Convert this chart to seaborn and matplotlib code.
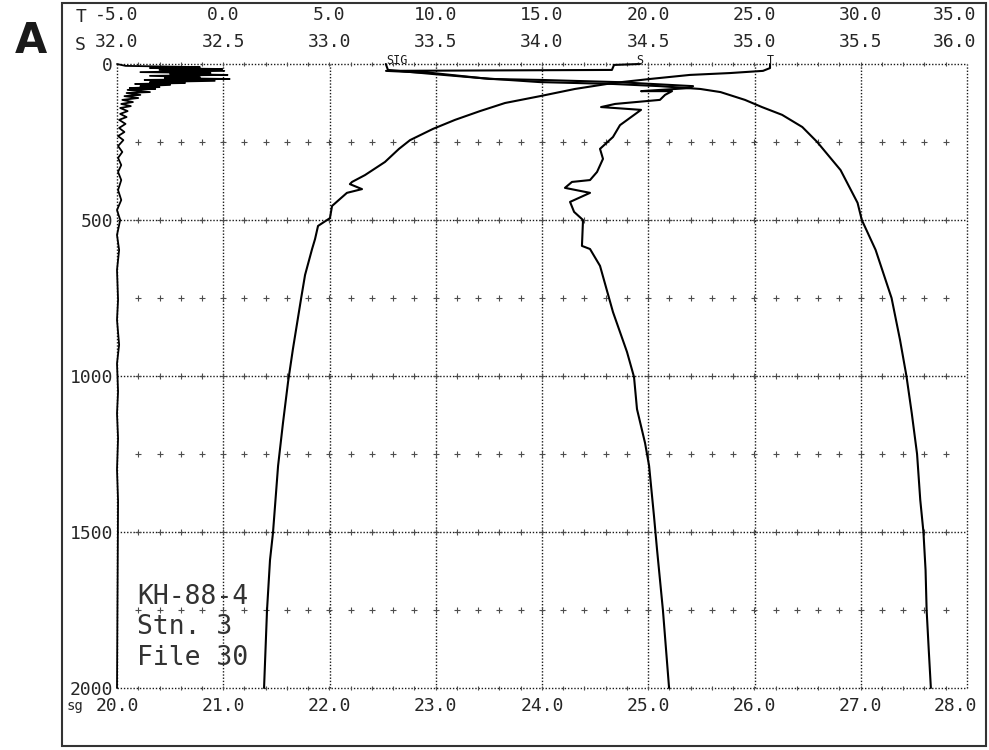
import numpy as np
import pandas as pd
import matplotlib
matplotlib.use("Agg")
import matplotlib.pyplot as plt
from matplotlib.patches import Rectangle
from matplotlib.transforms import ScaledTranslation
import seaborn as sns

# ---------------- data ----------------
# Temperature (deg C) vs depth (m)
t_depth = [0, 13, 22, 29, 35, 48, 61, 80, 103, 125, 151, 179, 208, 244, 272, 314, 356, 378, 385, 401,
           413, 455, 494, 519, 561, 593, 676, 753, 913, 1019, 1151, 1288, 1503, 1590, 1750, 2000]
t_vals = [25.73, 25.73, 25.40, 23.85, 21.96, 20.08, 18.34, 16.55, 14.91, 13.26, 12.08, 10.91, 9.87, 8.79,
          8.27, 7.61, 6.67, 6.06, 5.96, 6.53, 5.82, 5.12, 5.02, 4.46, 4.32, 4.18, 3.85, 3.66, 3.28, 3.05,
          2.81, 2.58, 2.34, 2.20, 2.06, 1.92]

# Salinity vs depth
s_depth = [0, 3, 19, 22, 29, 38, 48, 51, 58, 71, 77, 87, 87, 99, 115, 128, 138, 147, 196, 234, 272, 304,
           346, 372, 378, 397, 413, 442, 474, 500, 583, 593, 647, 795, 923, 1003, 1106, 1215, 1288, 1449,
           1554, 1750, 2000]
s_vals = [34.461, 34.339, 34.329, 33.266, 33.487, 33.614, 33.755, 33.991, 34.353, 34.711, 34.696, 34.466,
          34.612, 34.579, 34.555, 34.344, 34.278, 34.466, 34.367, 34.334, 34.273, 34.287, 34.259, 34.226,
          34.141, 34.108, 34.226, 34.132, 34.151, 34.193, 34.188, 34.226, 34.273, 34.334, 34.400, 34.433,
          34.447, 34.485, 34.504, 34.527, 34.541, 34.569, 34.598]

# Sigma-t vs depth
sg_depth = [0, 19, 32, 45, 58, 64, 71, 80, 90, 115, 138, 163, 202, 250, 340, 445, 500, 596, 750, 885,
            1000, 1119, 1250, 1397, 1500, 1622, 1750, 1878, 2000]
sg_vals = [22.53, 22.55, 22.97, 23.42, 23.98, 24.67, 25.11, 25.49, 25.68, 25.91, 26.07, 26.26, 26.45,
           26.59, 26.81, 26.97, 27.01, 27.14, 27.29, 27.37, 27.43, 27.48, 27.53, 27.56, 27.59, 27.61,
           27.62, 27.64, 27.66]

# Auxiliary noisy trace near the left edge (in sigma-axis units)
aux_depth = [0, 6, 10, 13, 16, 19, 22, 26, 29, 32, 35, 38, 42, 45, 48, 51, 54, 58, 61, 64, 67, 71, 74, 77,
             80, 83, 90, 93, 99, 103, 109, 115, 122, 128, 135, 141, 151, 160, 170, 179, 192, 205, 218, 231,
             244, 263, 282, 301, 324, 346, 372, 404, 436, 468, 500, 548, 596, 660, 756, 820, 900, 960,
             1050, 1120, 1200, 1300, 1400, 2000]
aux_vals = [20.00, 20.08, 20.78, 20.31, 20.99, 20.40, 21.01, 20.22, 20.88, 20.50, 21.04, 20.31, 20.78,
            20.45, 21.06, 20.26, 20.92, 20.31, 20.64, 20.17, 20.50, 20.22, 20.40, 20.12, 20.36, 20.10,
            20.31, 20.09, 20.22, 20.07, 20.20, 20.05, 20.15, 20.04, 20.13, 20.03, 20.10, 20.03, 20.09,
            20.02, 20.08, 20.02, 20.07, 20.01, 20.06, 20.01, 20.05, 20.01, 20.04, 20.01, 20.04, 20.01,
            20.04, 20.00, 20.03, 20.00, 20.02, 20.00, 20.01, 20.00, 20.02, 20.00, 20.01, 20.00, 20.01,
            20.00, 20.01, 20.00]

t_ticks = [-5, 0, 5, 10, 15, 20, 25, 30, 35]
s_ticks = [32.0, 32.5, 33.0, 33.5, 34.0, 34.5, 35.0, 35.5, 36.0]
sg_ticks = [20, 21, 22, 23, 24, 25, 26, 27, 28]
depth_ticks = [0, 500, 1000, 1500, 2000]
info_lines = ["KH-88-4", "Stn. 3", "File 30"]

# ---------------- styling ----------------
sns.set_style("white")
MONO = ["DejaVu Sans Mono"]
plt.rcParams["font.family"] = MONO

W, H = 989, 750
fig = plt.figure(figsize=(W / 100, H / 100), dpi=100)

def fx(px):
    return px / W

def fy(py):
    return 1 - py / H

left, right, top, bottom = 117, 967, 64, 688
ax = fig.add_axes([fx(left), fy(bottom), fx(right) - fx(left), fy(top) - fy(bottom)])
axT = ax.twiny()
axS = ax.twiny()

for a in (ax, axT, axS):
    for sp in a.spines.values():
        sp.set_visible(False)
    a.grid(False)

# grid (dotted)
grid_kw = dict(color="0.1", lw=1.0, ls=(0, (1, 1.3)), zorder=1)
for g in sg_ticks:
    ax.axvline(g, **grid_kw)
for d in depth_ticks:
    ax.axhline(d, **grid_kw)

# small crosses on the rows
cx = np.arange(20.2, 27.9, 0.2)
for d in [250, 500, 750, 1000, 1250, 1500, 1750]:
    ax.plot(cx, np.full_like(cx, d), ls="none", marker="+", ms=5, mew=0.8, color="0.3",
            zorder=1)
for d in [0, 2000]:
    ax.plot(cx, np.full_like(cx, d), ls="none", marker="|", ms=3, mew=0.8, color="0.3", zorder=1)

# curves
line_kw = dict(sort=False, estimator=None, color="black", linewidth=1.5, legend=False)
sns.lineplot(x=aux_vals, y=aux_depth, ax=ax, **dict(line_kw, linewidth=1.3))
sns.lineplot(x=sg_vals, y=sg_depth, ax=ax, **line_kw)
sns.lineplot(x=t_vals, y=t_depth, ax=axT, **line_kw)
sns.lineplot(x=s_vals, y=s_depth, ax=axS, **line_kw)
for a in (ax, axT, axS):
    for ln in a.lines:
        ln.set_clip_on(False)
    a.set_xlabel("")
    a.set_ylabel("")

ax.set_ylim(2000, 0)
ax.set_xlim(20, 28)
axT.set_xlim(-5, 35)
axS.set_xlim(32, 36)

# ticks
fs = 13
ax.set_xticks(sg_ticks)
ax.set_xticklabels([f"{v:.1f}" for v in sg_ticks], fontsize=fs, color="0.15")
ax.set_yticks(depth_ticks)
ax.set_yticklabels([str(v) for v in depth_ticks], fontsize=fs, color="0.15")
ax.tick_params(axis="x", length=0, pad=6.5)
ax.tick_params(axis="y", length=0, pad=3)

axT.set_xticks(t_ticks)
axT.set_xticklabels([f"{v:.1f}" for v in t_ticks], fontsize=fs, color="0.15")
axT.tick_params(axis="x", length=0, pad=29)
axS.set_xticks(s_ticks)
axS.set_xticklabels([f"{v:.1f}" for v in s_ticks], fontsize=fs, color="0.15")
axS.tick_params(axis="x", length=0, pad=9.5)

# keep the right-most labels inside the frame, as in the reference
shift = ScaledTranslation(-12 / 100, 0, fig.dpi_scale_trans)
for a in (ax, axT, axS):
    lbl = a.xaxis.get_major_ticks()[-1].label1 if a is ax else a.xaxis.get_major_ticks()[-1].label2
    lbl.set_transform(lbl.get_transform() + shift)

# axis prefixes
fig.text(fx(81), fy(17), "T", fontsize=fs, ha="center", va="center", color="0.15")
fig.text(fx(80), fy(45), "S", fontsize=fs, ha="center", va="center", color="0.15")
fig.text(fx(75), fy(706), "sg", fontsize=10, ha="center", va="center", color="0.15")

# curve labels at surface values
lab_kw = dict(fontsize=8.5, va="baseline", color="0.1", clip_on=False)
ax.text(sg_vals[0], 0, "SIG", ha="left", **lab_kw)
axS.text(s_vals[0], 0, "S", ha="center", **lab_kw)
axT.text(t_vals[0], 0, "T", ha="center", **lab_kw)

# station info
for i, txt in enumerate(info_lines):
    fig.text(fx(137), fy(597 + 30.5 * i), txt, fontsize=19, ha="left", va="center",
             color="0.2")

# panel letter and outer frame
fig.text(fx(31), fy(41), "A", fontsize=30, fontweight="bold", ha="center", va="center",
         family=["Liberation Sans Narrow", "DejaVu Sans"], color="0.1")
fig.add_artist(Rectangle((fx(62), fy(746)), fx(986) - fx(62), fy(3) - fy(746),
                         transform=fig.transFigure, fill=False, lw=1.5, ec="0.2"))

fig.savefig("out.png", dpi=100)
